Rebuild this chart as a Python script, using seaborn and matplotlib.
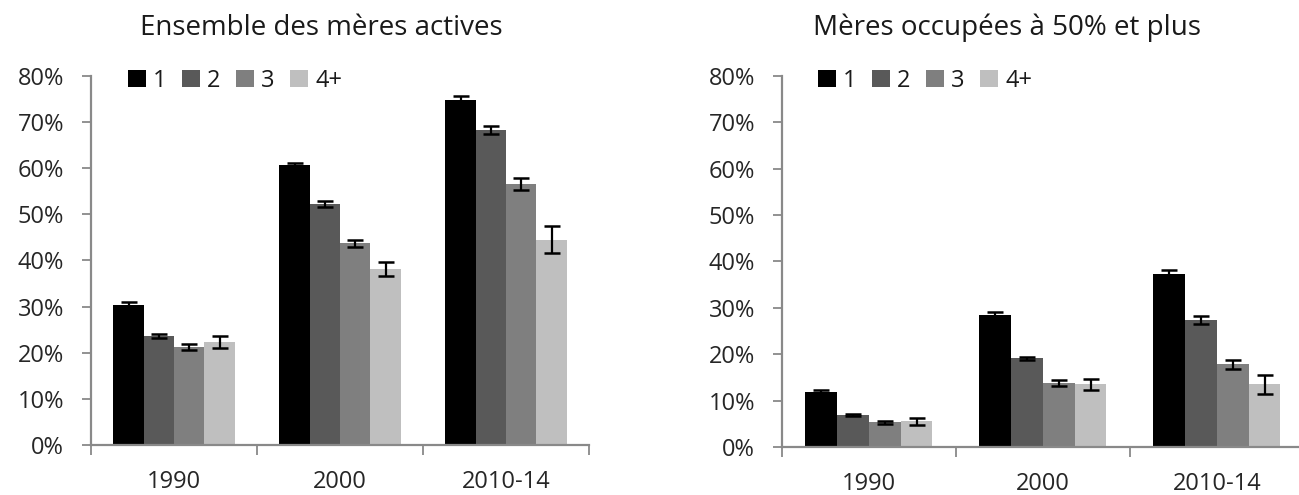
import numpy as np
import pandas as pd
import seaborn as sns
import matplotlib.pyplot as plt
from matplotlib.ticker import PercentFormatter, FixedLocator

# données (en %)
periodes = ['1990', '2000', '2010-14']
enfants = ['1', '2', '3', '4+']

# Ensemble des mères actives
act_1 = [30.4, 60.6, 74.8]
act_2 = [23.6, 52.2, 68.3]
act_3 = [21.2, 43.7, 56.6]
act_4 = [22.3, 38.2, 44.5]
act_err_1 = [0.5, 0.5, 0.8]
act_err_2 = [0.5, 0.7, 0.9]
act_err_3 = [0.7, 0.7, 1.3]
act_err_4 = [1.3, 1.5, 2.9]

# Mères occupées à 50% et plus
occ_1 = [11.9, 28.5, 37.3]
occ_2 = [6.9, 19.1, 27.4]
occ_3 = [5.3, 13.8, 17.8]
occ_4 = [5.5, 13.5, 13.5]
occ_err_1 = [0.4, 0.5, 0.9]
occ_err_2 = [0.3, 0.4, 0.8]
occ_err_3 = [0.3, 0.7, 1.0]
occ_err_4 = [0.7, 1.2, 2.0]

couleurs = ['#000000', '#595959', '#7f7f7f', '#bfbfbf']
gris = '#898989'

sns.set_style('white')
plt.rcParams['font.family'] = ['Open Sans', 'DejaVu Sans']
plt.rcParams['text.color'] = '#1a1a1a'


def to_df(series):
    rows = []
    for e, vals in zip(enfants, series):
        for p, v in zip(periodes, vals):
            rows.append({'periode': p, 'enfants': e, 'valeur': v})
    return pd.DataFrame(rows)


def dessine(ax, series, errs, leg_x):
    df = to_df(series)
    sns.barplot(data=df, x='periode', y='valeur', hue='enfants', order=periodes,
                hue_order=enfants, palette=couleurs, width=0.73, gap=0,
                errorbar=None, saturation=1, linewidth=0, ax=ax)
    for cont, err in zip(ax.containers, errs):
        xs = [b.get_x() + b.get_width() / 2 for b in cont]
        ys = [b.get_height() for b in cont]
        ax.errorbar(xs, ys, yerr=err, fmt='none', ecolor='black',
                    elinewidth=1.6, capsize=6, capthick=1.8)
    ax.set_ylim(0, 80)
    ax.set_xlim(-0.5, 2.5)
    ax.yaxis.set_major_locator(FixedLocator(np.arange(0, 81, 10)))
    ax.yaxis.set_major_formatter(PercentFormatter(decimals=0))
    ax.xaxis.set_major_locator(FixedLocator([-0.5, 0.5, 1.5, 2.5]))
    ax.xaxis.set_minor_locator(FixedLocator([0, 1, 2]))
    ax.set_xticklabels([], minor=False)
    ax.set_xticklabels(periodes, minor=True)
    ax.tick_params(axis='x', which='major', length=7, width=1.3, color=gris,
                   direction='out', bottom=True)
    ax.tick_params(axis='x', which='minor', length=0, pad=18, labelsize=17)
    ax.tick_params(axis='y', length=6.5, width=1.3, color=gris, direction='out',
                   left=True, pad=13, labelsize=17)
    ax.set_xlabel('')
    ax.set_ylabel('')
    sns.despine(ax=ax)
    for s in ['left', 'bottom']:
        ax.spines[s].set_color(gris)
        ax.spines[s].set_linewidth(1.6)
    ax.legend(loc='upper left', bbox_to_anchor=(leg_x, 1.02), ncol=4,
              frameon=False, fontsize=17, handlelength=0.76, handleheight=0.76,
              handletextpad=0.3, columnspacing=0.66, borderaxespad=0,
              borderpad=0)


fig = plt.figure(figsize=(12.99, 4.95), dpi=100)
ax1 = fig.add_axes([0.0701, 0.101, 0.3834, 0.7455])
ax2 = fig.add_axes([0.602, 0.097, 0.4018, 0.7495])

dessine(ax1, [act_1, act_2, act_3, act_4],
        [act_err_1, act_err_2, act_err_3, act_err_4], 0.074)
dessine(ax2, [occ_1, occ_2, occ_3, occ_4],
        [occ_err_1, occ_err_2, occ_err_3, occ_err_4], 0.069)

fig.text(321 / 1299, 1 - 28 / 495, 'Ensemble des mères actives',
         ha='center', va='center', fontsize=20)
fig.text(1007 / 1299, 1 - 28 / 495, 'Mères occupées à 50% et plus',
         ha='center', va='center', fontsize=20)

fig.savefig('out.png', dpi=100)
